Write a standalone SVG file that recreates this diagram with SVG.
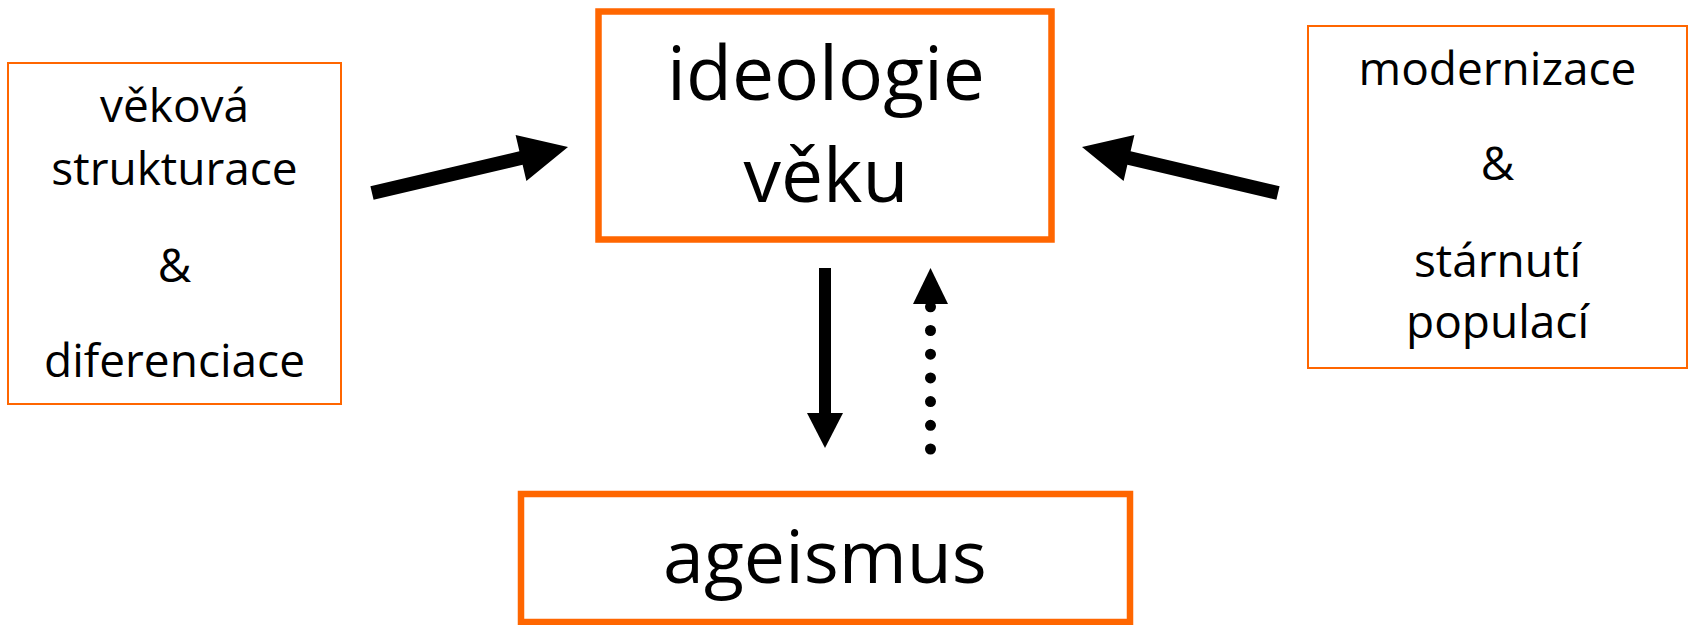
<svg xmlns="http://www.w3.org/2000/svg" width="1692" height="625" viewBox="0 0 1692 625">
<style>
.t{font-family:"Open Sans","Liberation Sans",sans-serif;fill:#000;text-anchor:middle}
.s{font-size:46px}
.b{font-size:75px}
.thin{fill:#fff;stroke:#FF6600;stroke-width:2}
.thick{fill:#fff;stroke:#FF6600;stroke-width:6.5}
</style>
<rect width="1692" height="625" fill="#fff"/>
<g id="left">
<rect class="thin" x="8" y="63" width="333" height="341"/>
<text class="t s" x="174.5" y="122">věková</text>
<text class="t s" x="174.5" y="185">strukturace</text>
<text class="t s" x="174.5" y="282">&amp;</text>
<text class="t s" x="174.5" y="377">diferenciace</text>
</g>
<g id="center">
<rect class="thick" x="598.5" y="11.5" width="453" height="228"/>
<text class="t b" x="826" y="100">ideologie</text>
<text class="t b" x="826" y="202">věku</text>
</g>
<g id="right">
<rect class="thin" x="1308" y="26" width="379" height="342"/>
<text class="t s" x="1497.5" y="85">modernizace</text>
<text class="t s" x="1497.5" y="180">&amp;</text>
<text class="t s" x="1497.5" y="277">stárnutí</text>
<text class="t s" x="1497.5" y="338">populací</text>
</g>
<g id="bottom">
<rect class="thick" x="521" y="494" width="609" height="128"/>
<text class="t b" x="825" y="583" style="font-size:73.5px">ageismus</text>
</g>
<g id="connectors">
<polygon points="370.4,186.2 519.4,151.2 515.6,135.1 568,147 526.4,180.9 522.6,164.8 373.6,199.8" fill="#000"/>
<polygon points="1279.6,186.2 1130.6,151.2 1134.4,135.1 1082,147 1123.6,180.9 1127.4,164.8 1276.4,199.8" fill="#000"/>
<rect x="819" y="268" width="12" height="146" fill="#000"/>
<polygon points="807,413 843,413 825,448" fill="#000"/>
<line x1="930.5" y1="449" x2="930.5" y2="300" stroke="#000" stroke-width="11" stroke-linecap="round" stroke-dasharray="0 23.7"/>
<polygon points="913,304 948,304 930.5,268" fill="#000"/>
</g>
</svg>
